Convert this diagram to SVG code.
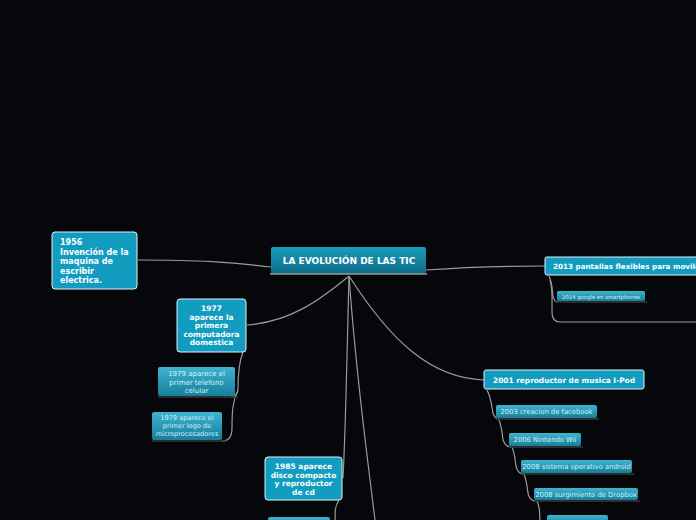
<svg xmlns="http://www.w3.org/2000/svg" width="696" height="520" viewBox="0 0 696 520">
<defs>
<linearGradient id="gc" x1="0" y1="0" x2="0" y2="1"><stop offset="0" stop-color="#1a9dbf"/><stop offset="1" stop-color="#0d6a84"/></linearGradient>
<linearGradient id="gs" x1="0" y1="0" x2="0" y2="1"><stop offset="0" stop-color="#3fb4d0"/><stop offset="1" stop-color="#157f9c"/></linearGradient>
<style>
.main{fill:#129dc0;stroke:#dff2f7;stroke-width:1}
.sub{fill:url(#gs)}
.ul{stroke:#3a3a3a;stroke-width:1.5;fill:none}
.con{stroke:#9a9a9a;stroke-width:1.2;fill:none}
.tb{font-family:"DejaVu Sans",Verdana,sans-serif;font-weight:bold;fill:#ffffff}
.ts{font-family:"DejaVu Sans",Verdana,sans-serif;fill:#d4f0f7}
</style>
</defs>
<rect width="696" height="520" fill="#05070a"/>
<g id="connectors">
<path class="con" d="M138 260 C200 260 230 262 271 267"/>
<path class="con" d="M247 325 C290 322 320 300 349 276"/>
<path class="con" d="M349 276 C347 350 346 420 343 478"/>
<path class="con" d="M349 276 C355 360 365 440 375 520"/>
<path class="con" d="M349 276 C390 340 430 378 484 380"/>
<path class="con" d="M426 270 C480 266 510 266 545 266"/>
<path class="con" d="M243 352 C239 362 238 375 238 388 Q238 397 231 397"/>
<path class="con" d="M238 390 C233 400 232 410 232 428 Q232 441 222 441"/>
<path class="con" d="M339 500 C333 508 336 514 335 520"/>
<path class="con" d="M549 276 C553 285 552 292 553 296 Q554 302 558 302"/>
<path class="con" d="M550 280 C553 290 552 300 552 312 Q552 322 560 322 L696 322"/>
<path class="con" d="M487 390 C492 400 492 410 493 413 Q495 419 499 419"/>
<path class="con" d="M499 420 C503 430 502 440 504 442 Q506 447 511 447"/>
<path class="con" d="M512 447 C516 457 515 466 517 469 Q519 474 524 474"/>
<path class="con" d="M524 474 C528 484 527 493 529 496 Q531 501 536 501"/>
<path class="con" d="M537 501 C541 510 539 515 540 520"/>
</g>
<g id="center">
<rect x="271" y="247" width="155" height="27" rx="2" fill="url(#gc)"/>
<line x1="270" y1="274" x2="427" y2="274" stroke="#9a9a9a" stroke-width="1.5"/>
<text class="tb" x="349" y="264" font-size="9" text-anchor="middle">LA EVOLUCIÓN DE LAS TIC</text>
</g>
<g id="n1956">
<rect class="main" x="52" y="232" width="85" height="57" rx="3"/>
<text class="tb" font-size="8"><tspan x="60" y="245">1956</tspan><tspan x="60" y="254.5">Invención de la</tspan><tspan x="60" y="264">maquina de</tspan><tspan x="60" y="273.5">escribir</tspan><tspan x="60" y="283">electrica.</tspan></text>
</g>
<g id="n1977">
<rect class="main" x="177" y="299" width="69" height="53" rx="3"/>
<text class="tb" font-size="7.5" text-anchor="middle"><tspan x="211.5" y="311">1977</tspan><tspan x="211.5" y="319.5">aparece la</tspan><tspan x="211.5" y="328">primera</tspan><tspan x="211.5" y="336.5">computadora</tspan><tspan x="211.5" y="345">domestica</tspan></text>
</g>
<g id="n1979a">
<rect class="sub" x="158" y="367" width="77" height="29" rx="2"/>
<line class="ul" x1="158" y1="397" x2="238" y2="397"/>
<text class="ts" font-size="7" text-anchor="middle"><tspan x="196.5" y="376">1979 aparece el</tspan><tspan x="196.5" y="384.5">primer telefono</tspan><tspan x="196.5" y="393">celular</tspan></text>
</g>
<g id="n1979b">
<rect class="sub" x="152" y="412" width="70" height="28" rx="2"/>
<line class="ul" x1="152" y1="441" x2="226" y2="441"/>
<text class="ts" font-size="6.6" text-anchor="middle"><tspan x="187" y="420">1979 aparece el</tspan><tspan x="187" y="428">primer logo de</tspan><tspan x="187" y="436">microprocesadores</tspan></text>
</g>
<g id="n1985">
<rect class="main" x="265" y="457" width="77" height="43" rx="3"/>
<text class="tb" font-size="7.5" text-anchor="middle"><tspan x="303.5" y="469">1985 aparece</tspan><tspan x="303.5" y="477.5">disco compacto</tspan><tspan x="303.5" y="486">y reproductor</tspan><tspan x="303.5" y="494.5">de cd</tspan></text>
</g>
<g id="n1985child">
<rect class="sub" x="268" y="517" width="62" height="10" rx="2"/>
</g>
<g id="n2001">
<rect class="main" x="484" y="370" width="160" height="19" rx="2"/>
<text class="tb" x="564" y="383" font-size="7.4" text-anchor="middle">2001 reproductor de musica I-Pod</text>
</g>
<g id="n2003">
<rect class="sub" x="496" y="405" width="101" height="13" rx="2"/>
<line class="ul" x1="496" y1="419" x2="599" y2="419"/>
<text class="ts" x="546.5" y="414" font-size="6.8" text-anchor="middle">2003 creacion de facebook</text>
</g>
<g id="n2006">
<rect class="sub" x="509" y="433" width="72" height="13" rx="2"/>
<line class="ul" x1="509" y1="447" x2="583" y2="447"/>
<text class="ts" x="545" y="442" font-size="6.8" text-anchor="middle">2006 Nintendo Wii</text>
</g>
<g id="n2008a">
<rect class="sub" x="521" y="460" width="111" height="13" rx="2"/>
<line class="ul" x1="521" y1="474" x2="634" y2="474"/>
<text class="ts" x="576.5" y="469" font-size="6.8" text-anchor="middle">2008 sistema operativo android</text>
</g>
<g id="n2008b">
<rect class="sub" x="534" y="488" width="104" height="12" rx="2"/>
<line class="ul" x1="534" y1="501" x2="640" y2="501"/>
<text class="ts" x="586" y="497" font-size="6.8" text-anchor="middle">2008 surgimiento de Dropbox</text>
</g>
<g id="n2010">
<rect class="sub" x="547" y="515" width="61" height="10" rx="2"/>
</g>
<g id="n2013">
<rect class="main" x="545" y="257" width="156" height="18" rx="2"/>
<text class="tb" x="553" y="269" font-size="7.2">2013 pantallas flexibles para moviles</text>
</g>
<g id="n2014">
<rect class="sub" x="557" y="291" width="88" height="10" rx="1.5"/>
<line class="ul" x1="557" y1="302" x2="647" y2="302"/>
<text class="ts" x="601" y="298.5" font-size="5.3" text-anchor="middle">2014 google en smartphones</text>
</g>
</svg>
